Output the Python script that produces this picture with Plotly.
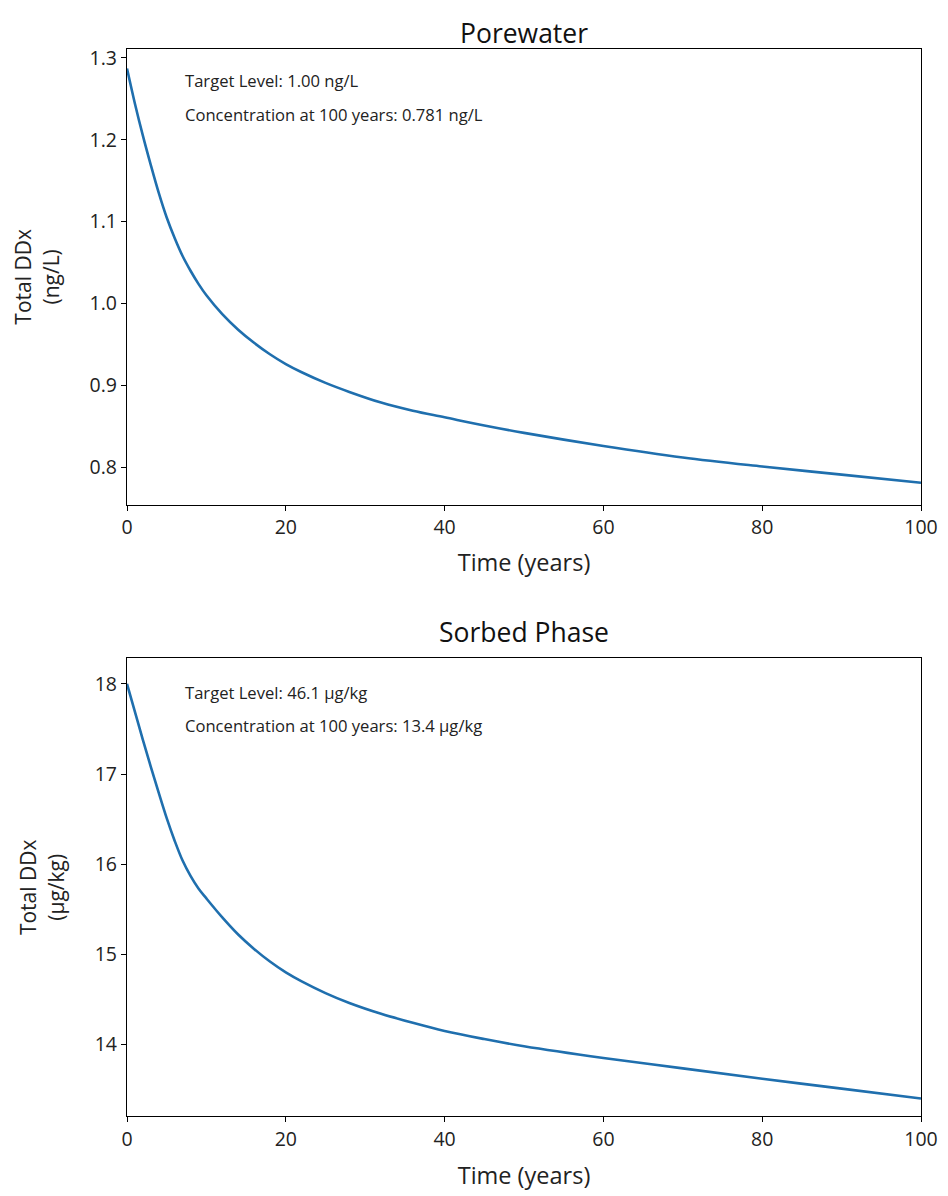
import plotly.graph_objects as go

# Data
years = [0, 1, 2, 3, 4, 5, 6, 7, 8, 9, 10, 12, 14, 16, 18, 20, 22, 25, 28, 32, 36, 40, 45, 50, 60, 70, 80, 90, 100]
porewater = [1.287, 1.244, 1.205, 1.169, 1.135, 1.105, 1.080, 1.058, 1.040, 1.024, 1.010, 0.987, 0.968,
             0.952, 0.938, 0.926, 0.916, 0.903, 0.892, 0.879, 0.869, 0.861, 0.851, 0.842, 0.826, 0.812,
             0.801, 0.791, 0.781]
sorbed = [18.00, 17.69, 17.38, 17.08, 16.79, 16.51, 16.26, 16.04, 15.87, 15.73, 15.62, 15.41, 15.22,
          15.06, 14.92, 14.80, 14.70, 14.57, 14.46, 14.34, 14.24, 14.15, 14.06, 13.98, 13.85, 13.735,
          13.62, 13.51, 13.40]

titles = ["Porewater", "Sorbed Phase"]
ylabels = ["Total DDx<br>(ng/L)", "Total DDx<br>(µg/kg)"]
notes_pw = ["Target Level: 1.00 ng/L", "Concentration at 100 years: 0.781 ng/L"]
notes_sp = ["Target Level: 46.1 µg/kg", "Concentration at 100 years: 13.4 µg/kg"]

FONT = "Open Sans, Noto Sans, DejaVu Sans, sans-serif"
LINE = "#1f6fae"

W, H = 940, 1188   # page body has an 8px offset
OFF = 8

fig = go.Figure()
fig.add_trace(go.Scatter(x=years, y=porewater, mode="lines", line=dict(color=LINE, width=2.6, shape="spline"),
                         xaxis="x", yaxis="y", showlegend=False))
fig.add_trace(go.Scatter(x=years, y=sorbed, mode="lines", line=dict(color=LINE, width=2.6, shape="spline"),
                         xaxis="x2", yaxis="y2", showlegend=False))

def py(v):
    return 1 - (v - OFF) / H

top_dom = [py(502), py(44)]
bot_dom = [py(1116), py(656)]

axis_common = dict(showline=True, linecolor="black", linewidth=1.3, mirror=True, ticks="outside",
                   ticklen=5, tickwidth=1.2, tickcolor="black", showgrid=False, zeroline=False,
                   tickfont=dict(size=19.5, color="#222", family=FONT))

fig.update_layout(
    width=W, height=H,
    margin=dict(l=127 - OFF, r=948 - 921 - (948 - OFF - W), t=0, b=0),
    paper_bgcolor="white", plot_bgcolor="white",
    font=dict(family=FONT, color="#222"),
    xaxis=dict(domain=[0, 1], anchor="y", range=[0, 100], dtick=20,
               title=dict(text="Time (years)", font=dict(size=23.5), standoff=15), **axis_common),
    yaxis=dict(domain=top_dom, anchor="x", range=[0.754, 1.311], dtick=0.1, tickformat=".1f",
               title=dict(text=ylabels[0], font=dict(size=21), standoff=24), **axis_common),
    xaxis2=dict(domain=[0, 1], anchor="y2", range=[0, 100], dtick=20,
                title=dict(text="Time (years)", font=dict(size=23.5), standoff=16), **axis_common),
    yaxis2=dict(domain=bot_dom, anchor="x2", range=[13.203, 18.284], dtick=1,
                title=dict(text=ylabels[1], font=dict(size=21), standoff=24), **axis_common),
)

annots = []
annots.append(dict(text=titles[0], x=0.5, xref="paper", y=1.0, yref="paper",
                   showarrow=False, font=dict(size=26.5, color="#111"), xanchor="center", yanchor="top"))
annots.append(dict(text=titles[1], x=0.5, xref="paper", y=py(630), yref="paper",
                   showarrow=False, font=dict(size=26.5, color="#111"), xanchor="center", yanchor="middle"))
for i, t in enumerate(notes_pw):
    annots.append(dict(text=t, x=0.07, xref="x domain", y=[0.93, 0.857][i], yref="y domain",
                       showarrow=False, xanchor="left", yanchor="middle", font=dict(size=16.6, color="#222")))
for i, t in enumerate(notes_sp):
    annots.append(dict(text=t, x=0.07, xref="x2 domain", y=[0.926, 0.854][i], yref="y2 domain",
                       showarrow=False, xanchor="left", yanchor="middle", font=dict(size=16.6, color="#222")))
fig.update_layout(annotations=annots)

fig.write_html("out.html")
